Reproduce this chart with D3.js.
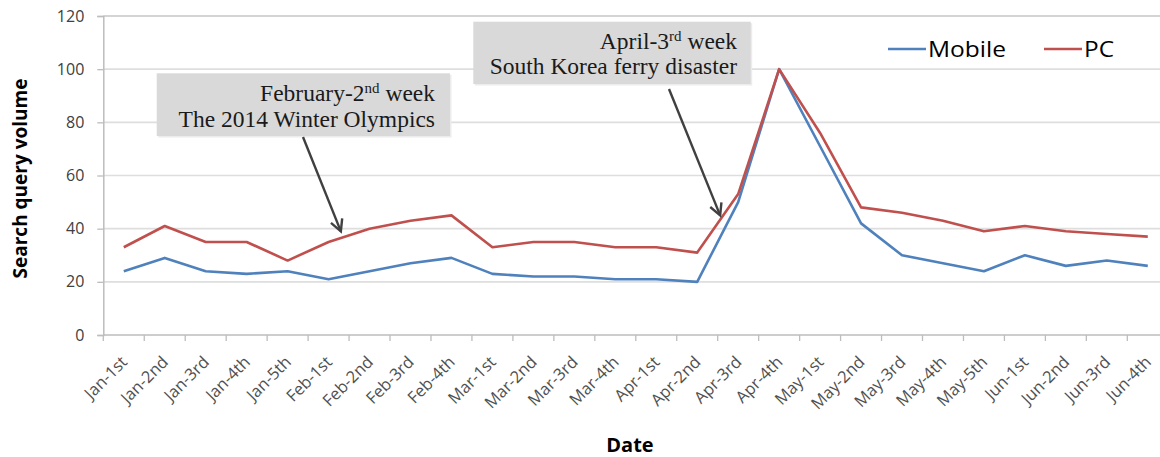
<!DOCTYPE html>
<html>
<head>
<meta charset="utf-8">
<script src="https://cdn.jsdelivr.net/npm/d3@7/dist/d3.min.js"></script>
<style>
  html, body { margin: 0; padding: 0; background: #fff; }
  svg { display: block; }
</style>
</head>
<body>
<svg id="chart" width="1160" height="457"></svg>
<script>
// ---- data ----
const categories = [
  "Jan-1st","Jan-2nd","Jan-3rd","Jan-4th","Jan-5th",
  "Feb-1st","Feb-2nd","Feb-3rd","Feb-4th",
  "Mar-1st","Mar-2nd","Mar-3rd","Mar-4th",
  "Apr-1st","Apr-2nd","Apr-3rd","Apr-4th",
  "May-1st","May-2nd","May-3rd","May-4th","May-5th",
  "Jun-1st","Jun-2nd","Jun-3rd","Jun-4th"
];
const mobileValues = [24,29,24,23,24,21,24,27,29,23,22,22,21,21,20,50,100,71,42,30,27,24,30,26,28,26];
const pcValues     = [33,41,35,35,28,35,40,43,45,33,35,35,33,33,31,53,100,76,48,46,43,39,41,39,38,37];
const yTicks = [0,20,40,60,80,100,120];
const seriesNames = ["Mobile","PC"];

// ---- layout ----
const svg = d3.select("#chart");
const left = 103.3, bw = 40.96;
const x = d3.scaleBand().domain(categories).range([left, left + bw * categories.length]).padding(0);
const y = d3.scaleLinear().domain([0, 120]).range([335, 16]);
const colors = { Mobile: "#4f81bd", PC: "#c0504d" };
const plotRight = 1160;

// gridlines
svg.append("g").selectAll("line").data(yTicks.filter(d => d > 0)).join("line")
  .attr("x1", left).attr("x2", plotRight)
  .attr("y1", d => y(d)).attr("y2", d => y(d))
  .attr("stroke", d => d === 120 ? "#c6c6c6" : "#dedede")
  .attr("stroke-width", 1.6);

// y axis
const yAxis = d3.axisLeft(y).tickValues(yTicks).tickSize(6).tickPadding(13);
const gy = svg.append("g").attr("transform", `translate(${left},0)`).call(yAxis);
gy.select(".domain").attr("stroke", "#bdbdbd").attr("stroke-width", 1.5);
gy.selectAll(".tick line").attr("stroke", "#bdbdbd").attr("stroke-width", 1.3);
gy.selectAll(".tick text").attr("fill", "#404040")
  .style("font-family", "'Open Sans', sans-serif").style("font-size", "16px");

// x axis
const xAxis = d3.axisBottom(x).tickSize(0).tickFormat("");
const gx = svg.append("g").attr("transform", `translate(0,${y(0)})`).call(xAxis);
gx.select(".domain").attr("stroke", "#bdbdbd").attr("stroke-width", 1.6).attr("d", `M${left},0H${plotRight}`);
// tick marks at band boundaries
svg.append("g").selectAll("line").data(categories).join("line")
  .attr("x1", d => x(d)).attr("x2", d => x(d))
  .attr("y1", y(0)).attr("y2", y(0) + 6)
  .attr("stroke", "#bdbdbd").attr("stroke-width", 1.3);
// rotated labels
svg.append("g").selectAll("text").data(categories).join("text")
  .attr("transform", d => `translate(${x(d) + x.bandwidth() / 2 + 4.5},${y(0) + 28}) rotate(-45)`)
  .attr("text-anchor", "end")
  .attr("fill", "#505050")
  .style("font-family", "'Open Sans', sans-serif").style("font-size", "16.5px")
  .text(d => d);

// lines
const line = d3.line()
  .x((d, i) => x(categories[i]) + x.bandwidth() / 2)
  .y(d => y(d));
[["Mobile", mobileValues], ["PC", pcValues]].forEach(([name, vals]) => {
  svg.append("path").datum(vals)
    .attr("fill", "none")
    .attr("stroke", colors[name])
    .attr("stroke-width", 2.6)
    .attr("stroke-linejoin", "round")
    .attr("d", line);
});

// axis titles
svg.append("text")
  .attr("transform", `translate(27,${(y(0) + y(120)) / 2 + 3}) rotate(-90)`)
  .attr("text-anchor", "middle").attr("fill", "#000")
  .style("font-family", "'Open Sans', sans-serif").style("font-size", "19px").style("font-weight", "bold")
  .text("Search query volume");
svg.append("text")
  .attr("x", 630).attr("y", 452)
  .attr("text-anchor", "middle").attr("fill", "#000")
  .style("font-family", "'Open Sans', sans-serif").style("font-size", "20px").style("font-weight", "bold")
  .text("Date");

// legend
const legend = svg.append("g");
const legendItems = [
  { name: "Mobile", x1: 888, x2: 926, w: 78 },
  { name: "PC", x1: 1044, x2: 1082, w: 30 }
];
legendItems.forEach(it => {
  legend.append("line").attr("x1", it.x1).attr("x2", it.x2).attr("y1", 49).attr("y2", 49)
    .attr("stroke", colors[it.name]).attr("stroke-width", 2.6);
  legend.append("text").attr("x", it.x2 + 2).attr("y", 57)
    .attr("fill", "#000")
    .attr("textLength", it.w).attr("lengthAdjust", "spacingAndGlyphs")
    .style("font-family", "'Open Sans', sans-serif").style("font-size", "22px")
    .text(it.name);
});

// annotations
const annotations = [
  { box: [156.7, 73.3, 450, 136], textRight: 435, base: [101, 127],
    l1: ["February-2", "nd", " week"], l2: "The 2014 Winter Olympics",
    from: [303, 137], tipIdx: 5.30, tipVal: 39 },
  { box: [473.3, 21.7, 750.7, 84], textRight: 737, base: [48.5, 74],
    l1: ["April-3", "rd", " week"], l2: "South Korea ferry disaster",
    from: [669, 89], tipIdx: 14.56, tipVal: 45 }
];
annotations.forEach(a => {
  const g = svg.append("g");
  const [x0, y0, x1, y1] = a.box;
  g.append("rect").attr("x", x0 + 1.5).attr("y", y0 + 1.5).attr("width", x1 - x0).attr("height", y1 - y0)
    .attr("fill", "#ececec");
  g.append("rect").attr("x", x0).attr("y", y0).attr("width", x1 - x0).attr("height", y1 - y0)
    .attr("fill", "#d9d9d9");
  const t1 = g.append("text").attr("x", a.textRight).attr("y", a.base[0])
    .attr("text-anchor", "end").attr("fill", "#1a1a1a")
    .style("font-family", "'Liberation Serif', 'Times New Roman', serif").style("font-size", "23.5px");
  t1.append("tspan").text(a.l1[0]);
  t1.append("tspan").attr("dy", -8).style("font-size", "15px").text(a.l1[1]);
  t1.append("tspan").attr("dy", 8).text(a.l1[2]);
  g.append("text").attr("x", a.textRight).attr("y", a.base[1])
    .attr("text-anchor", "end").attr("fill", "#1a1a1a")
    .style("font-family", "'Liberation Serif', 'Times New Roman', serif").style("font-size", "23.5px")
    .text(a.l2);
  // arrow
  const tx = left + (a.tipIdx + 0.5) * bw, ty = y(a.tipVal);
  const [fx, fy] = a.from;
  g.append("line").attr("x1", fx).attr("y1", fy).attr("x2", tx).attr("y2", ty)
    .attr("stroke", "#404040").attr("stroke-width", 2.4);
  const ang = Math.atan2(ty - fy, tx - fx);
  const L = 13, spread = Math.PI / 6.5;
  const p1 = [tx - L * Math.cos(ang - spread), ty - L * Math.sin(ang - spread)];
  const p2 = [tx - L * Math.cos(ang + spread), ty - L * Math.sin(ang + spread)];
  g.append("path").attr("d", `M${p1[0]},${p1[1]}L${tx},${ty}L${p2[0]},${p2[1]}`)
    .attr("fill", "none").attr("stroke", "#404040").attr("stroke-width", 2.4)
    .attr("stroke-linejoin", "miter");
});
</script>
</body>
</html>
